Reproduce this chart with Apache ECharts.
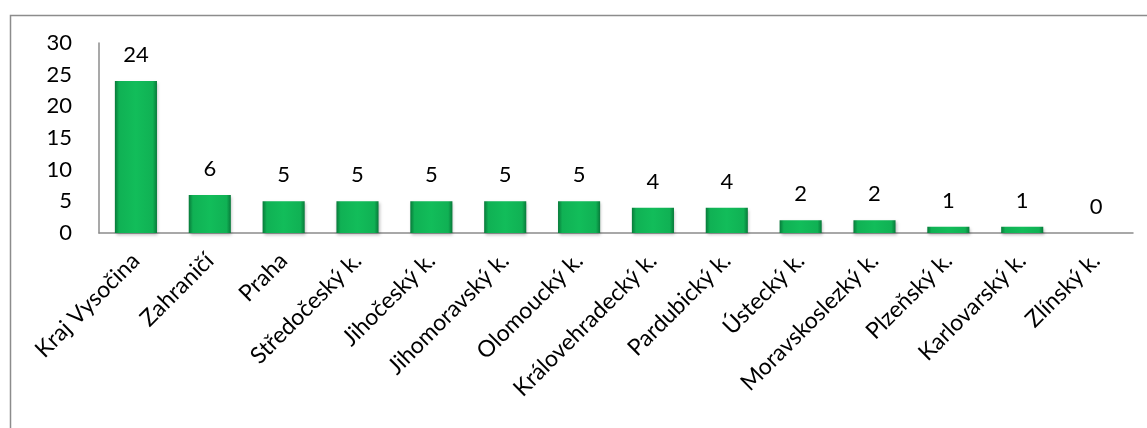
<!DOCTYPE html>
<html>
<head>
<meta charset="utf-8">
<script src="https://cdn.jsdelivr.net/npm/echarts@6/dist/echarts.min.js"></script>
<style>html,body{margin:0;padding:0;background:#fff}#c{width:1147px;height:428px}</style>
</head>
<body>
<div id="c"></div>
<script>
var categories = ["Kraj Vysočina","Zahraničí","Praha","Středočeský k.","Jihočeský k.","Jihomoravský k.","Olomoucký k.","Královehradecký k.","Pardubický k.","Ústecký k.","Moravskoslezký k.","Plzeňský k.","Karlovarský k.","Zlínský k."];
var values = [24,6,5,5,5,5,5,4,4,2,2,1,1,0];
var yTicks = [0,5,10,15,20,25,30];

var chart = echarts.init(document.getElementById('c'));
var FONT = 'Lato';
chart.setOption({
  animation: false,
  textStyle: {fontFamily: FONT},
  graphic: [{
    type: 'rect', left: 8, top: 13, shape: {width: 1160, height: 440},
    style: {fill: 'none', stroke: '#8c8c8c', lineWidth: 1.5}, silent: true
  }],
  grid: {left: 99, right: 14, top: 43, bottom: 195, containLabel: false},
  xAxis: {
    type: 'category', data: categories,
    axisLine: {show: true, lineStyle: {color: '#8c8c8c', width: 1.5}},
    axisTick: {show: false},
    axisLabel: {rotate: 45, interval: 0, margin: 24, fontSize: 23, color: '#000', fontFamily: FONT}
  },
  yAxis: {
    type: 'value', min: yTicks[0], max: yTicks[yTicks.length-1], interval: 5,
    axisLine: {show: true, lineStyle: {color: '#8c8c8c', width: 1.5}},
    axisTick: {show: false}, splitLine: {show: false},
    axisLabel: {margin: 27, fontSize: 22, color: '#000', fontFamily: FONT}
  },
  series: [{
    type: 'bar', data: values, barCategoryGap: '43%',
    itemStyle: {
      color: new echarts.graphic.LinearGradient(0, 0, 1, 0, [
        {offset: 0, color: '#087a3a'},
        {offset: 0.1, color: '#10b154'},
        {offset: 0.5, color: '#12bd5a'},
        {offset: 0.9, color: '#10b154'},
        {offset: 1, color: '#087a3a'}
      ]),
      borderWidth: 0,
      shadowColor: 'rgba(0,0,0,0.25)', shadowBlur: 3, shadowOffsetX: 1, shadowOffsetY: 2
    },
    label: {show: true, position: 'top', distance: 15, fontSize: 22, color: '#000', fontFamily: FONT}
  }]
});
</script>
</body>
</html>
